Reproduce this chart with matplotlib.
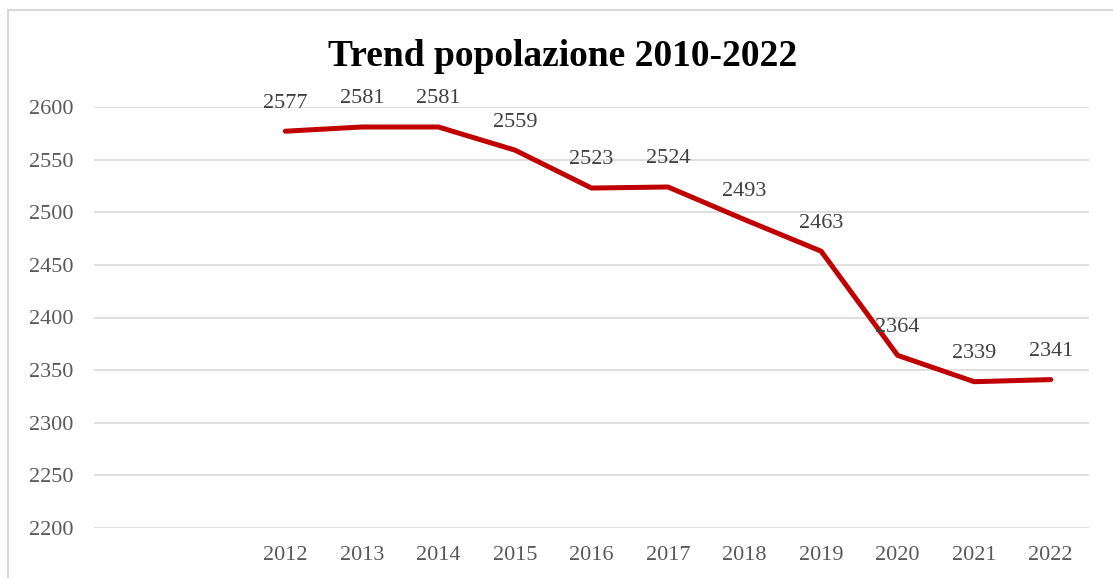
import numpy as np
import matplotlib.pyplot as plt
from matplotlib.patches import Rectangle

years = ['2010', '2011', '2012', '2013', '2014', '2015', '2016', '2017',
         '2018', '2019', '2020', '2021', '2022']
tick_labels = ['', '', '2012', '2013', '2014', '2015', '2016', '2017',
               '2018', '2019', '2020', '2021', '2022']
popolazione = [np.nan, np.nan, 2577, 2581, 2581, 2559, 2523, 2524,
               2493, 2463, 2364, 2339, 2341]

plt.rcParams['font.family'] = ['Liberation Serif', 'DejaVu Serif']

fig = plt.figure(figsize=(11.13, 5.78), dpi=100)
ax = fig.add_axes([94 / 1113, 50 / 578, 995 / 1113, 421 / 578])

x = np.arange(len(years))
ax.plot(x, popolazione, color='#C00000', lw=3.6, solid_capstyle='round',
        solid_joinstyle='round', zorder=3)

for xi, v in zip(x, popolazione):
    if np.isnan(v):
        continue
    ax.annotate(f'{v:.0f}', (xi, v), xytext=(0, 17), textcoords='offset points',
                ha='center', va='baseline', fontsize=16, color='#404040', zorder=4)

ax.set_xlim(-0.5, len(years) - 0.5)
ax.set_ylim(2200, 2600)
ax.set_yticks(np.arange(2200, 2601, 50))
ax.set_xticks(x)
ax.set_xticklabels(tick_labels)
ax.tick_params(axis='both', length=0, labelsize=16, labelcolor='#595959')
ax.tick_params(axis='y', pad=15)
ax.tick_params(axis='x', pad=13)
ax.grid(axis='y', color='#D9D9D9', lw=1.2)
ax.set_axisbelow(True)
for s in ax.spines.values():
    s.set_visible(False)

fig.text(563 / 1113, 1 - 66 / 578, 'Trend popolazione 2010-2022',
         ha='center', va='baseline', fontsize=27, fontweight='bold', color='black')

# bordo del grafico
fig.patches.append(Rectangle((8 / 1113, -0.1), 1.2, 1 - 10 / 578 + 0.1,
                             transform=fig.transFigure, fill=False,
                             edgecolor='#D9D9D9', lw=1.5))

fig.savefig('out.png', dpi=100)
